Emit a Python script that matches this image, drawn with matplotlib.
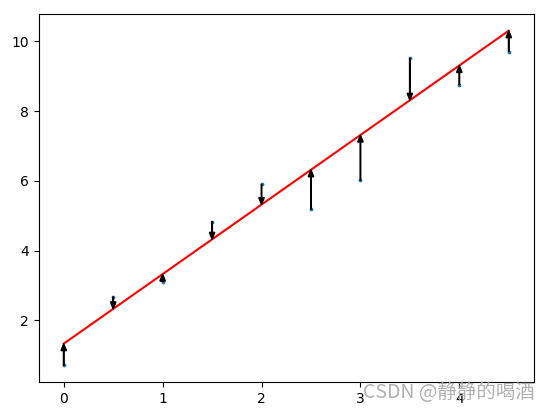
import matplotlib
matplotlib.use("Agg")
import matplotlib.pyplot as plt
import numpy as np

x_vals = [0.0, 0.5, 1.0, 1.5, 2.0, 2.5, 3.0, 3.5, 4.0, 4.5]
y_vals = [0.71, 2.67, 3.11, 4.83, 5.90, 5.19, 6.02, 9.52, 8.76, 9.71]
line_intercept = 1.33
line_slope = 1.995
watermark = "CSDN @静静的喝酒"

x = np.array(x_vals)
y = np.array(y_vals)
yhat = line_intercept + line_slope * x

fig = plt.figure(figsize=(5.5, 4.12), dpi=100)
ax = fig.add_axes([38.5/550, 30/412, 495.5/550, 368/412])
ax.scatter(x, y, s=3, color="C0", zorder=3)
ax.plot(x, yhat, color="red", lw=1.5)
for xi, yi, yh in zip(x, y, yhat):
    ax.arrow(xi, yi, 0, yh - yi, width=0.006, head_width=0.055, head_length=0.2,
             length_includes_head=True, color="black", zorder=4)
ax.margins(0.05)

fig.text(535/550, 1 - 393/412, watermark, ha="right", va="center", fontsize=14,
         color="#a8a8a8", alpha=0.9, family=["Noto Sans CJK SC", "DejaVu Sans"])
fig.savefig("out.png", dpi=100)
